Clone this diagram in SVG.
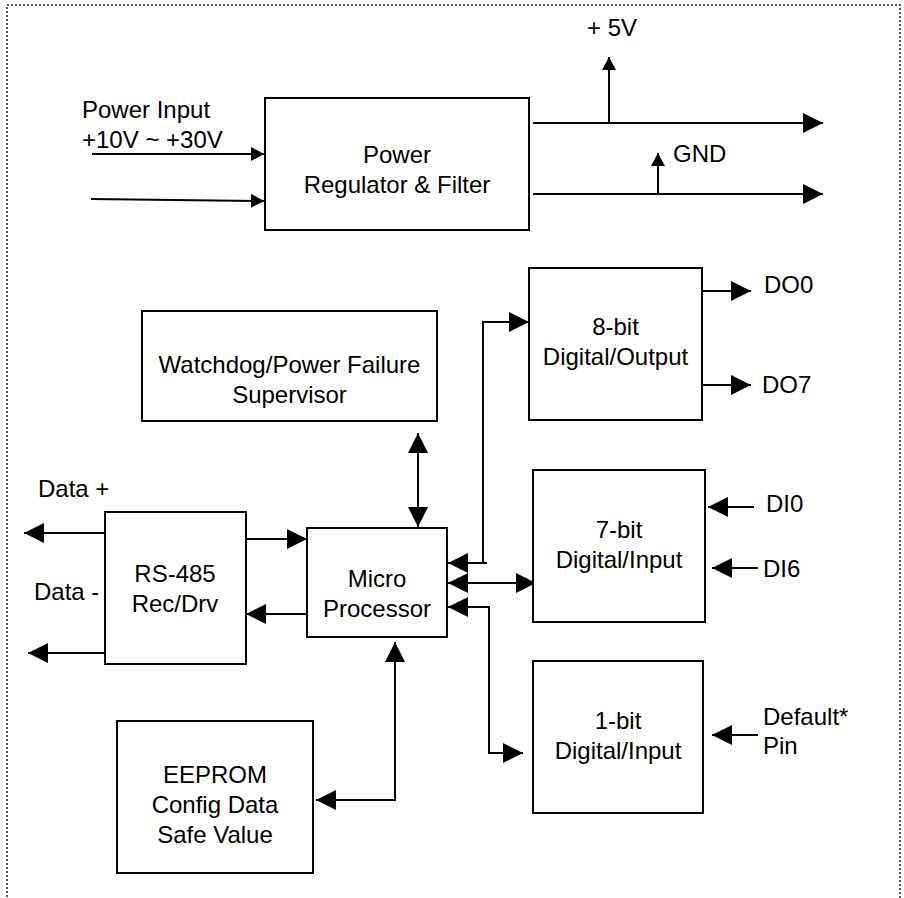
<svg xmlns="http://www.w3.org/2000/svg" width="904" height="898" viewBox="0 0 904 898">
<style>
  .box { fill: #fff; stroke: #000; stroke-width: 2; }
  .ln { fill: none; stroke: #000; stroke-width: 2; }
  text { font-family: "Liberation Sans", Arial, sans-serif; font-size: 24px; fill: #000; }
  .c { text-anchor: middle; }
  .border { fill: none; stroke: #222; stroke-width: 1.5; stroke-dasharray: 2 2; }
</style>
<defs>
  <marker id="big" markerUnits="userSpaceOnUse" viewBox="0 0 20 20" refX="20" refY="10" markerWidth="20" markerHeight="20" orient="auto-start-reverse">
    <path d="M0,0 L20,10 L0,20 Z" fill="#000"/>
  </marker>
  <marker id="sm" markerUnits="userSpaceOnUse" viewBox="0 0 13 14" refX="13" refY="7" markerWidth="13" markerHeight="14" orient="auto-start-reverse">
    <path d="M0,0 L13,7 L0,14 Z" fill="#000"/>
  </marker>
</defs>
<rect width="904" height="898" fill="#fff"/>
<path class="border" d="M7,905 V5 H900 V905"/>

<g id="connectors">
  <path class="ln" d="M92,154 H264" marker-end="url(#sm)"/>
  <path class="ln" d="M91,199 L264,201" marker-end="url(#sm)"/>
  <path class="ln" d="M533,123 H823" marker-end="url(#big)"/>
  <path class="ln" d="M533,194 H823" marker-end="url(#big)"/>
  <path class="ln" d="M609,123 V57" marker-end="url(#sm)"/>
  <path class="ln" d="M658,194 V153" marker-end="url(#sm)"/>
  <path class="ln" d="M105,533 H24" marker-end="url(#big)"/>
  <path class="ln" d="M105,653 H28" marker-end="url(#big)"/>
  <path class="ln" d="M246,539 H307" marker-end="url(#big)"/>
  <path class="ln" d="M307,614 H246" marker-end="url(#big)"/>
  <path class="ln" d="M418,433 V527" marker-start="url(#big)" marker-end="url(#big)"/>
  <path class="ln" d="M448,563 H487 M483,563 V322 H529" marker-start="url(#big)" marker-end="url(#big)"/>
  <path class="ln" d="M448,583 H536" marker-start="url(#big)" marker-end="url(#big)"/>
  <path class="ln" d="M448,607 H489 V753 H523" marker-start="url(#big)" marker-end="url(#big)"/>
  <path class="ln" d="M395,642 V800 H316" marker-start="url(#big)" marker-end="url(#big)"/>
  <path class="ln" d="M702,291 H751" marker-end="url(#big)"/>
  <path class="ln" d="M702,385 H751" marker-end="url(#big)"/>
  <path class="ln" d="M754,507 H708" marker-end="url(#big)"/>
  <path class="ln" d="M758,568 H712" marker-end="url(#big)"/>
  <path class="ln" d="M758,735 H712" marker-end="url(#big)"/>
</g>

<g id="labels">
  <text x="82" y="118">Power Input</text>
  <text x="82" y="148">+10V ~ +30V</text>
  <text x="587" y="36">+ 5V</text>
  <text x="673" y="162">GND</text>
  <text x="38" y="497">Data +</text>
  <text x="34" y="600">Data -</text>
  <text x="764" y="293">DO0</text>
  <text x="762" y="393">DO7</text>
  <text x="766" y="512">DI0</text>
  <text x="763" y="577">DI6</text>
  <text x="763" y="725">Default*</text>
  <text x="763" y="754">Pin</text>
</g>

<g id="power">
  <rect class="box" x="265" y="98" width="264" height="132"/>
  <text class="c" x="397" y="163">Power</text>
  <text class="c" x="397" y="193">Regulator &amp; Filter</text>
</g>
<g id="watchdog">
  <rect class="box" x="142" y="311" width="295" height="110"/>
  <text class="c" x="289.5" y="373">Watchdog/Power Failure</text>
  <text class="c" x="289.5" y="403">Supervisor</text>
</g>
<g id="rs485">
  <rect class="box" x="105" y="512" width="141" height="152"/>
  <text class="c" x="175" y="582">RS-485</text>
  <text class="c" x="175" y="612">Rec/Drv</text>
</g>
<g id="micro">
  <rect class="box" x="307" y="528" width="140" height="109"/>
  <text class="c" x="377" y="587">Micro</text>
  <text class="c" x="377" y="617">Processor</text>
</g>
<g id="do8">
  <rect class="box" x="529" y="268" width="173" height="152"/>
  <text class="c" x="615.5" y="335">8-bit</text>
  <text class="c" x="615.5" y="365">Digital/Output</text>
</g>
<g id="di7">
  <rect class="box" x="533" y="470" width="172" height="152"/>
  <text class="c" x="619" y="538">7-bit</text>
  <text class="c" x="619" y="568">Digital/Input</text>
</g>
<g id="di1">
  <rect class="box" x="533" y="661" width="170" height="152"/>
  <text class="c" x="618" y="729">1-bit</text>
  <text class="c" x="618" y="759">Digital/Input</text>
</g>
<g id="eeprom">
  <rect class="box" x="117" y="721" width="196" height="152"/>
  <text class="c" x="215" y="783">EEPROM</text>
  <text class="c" x="215" y="813">Config Data</text>
  <text class="c" x="215" y="843">Safe Value</text>
</g>
</svg>
